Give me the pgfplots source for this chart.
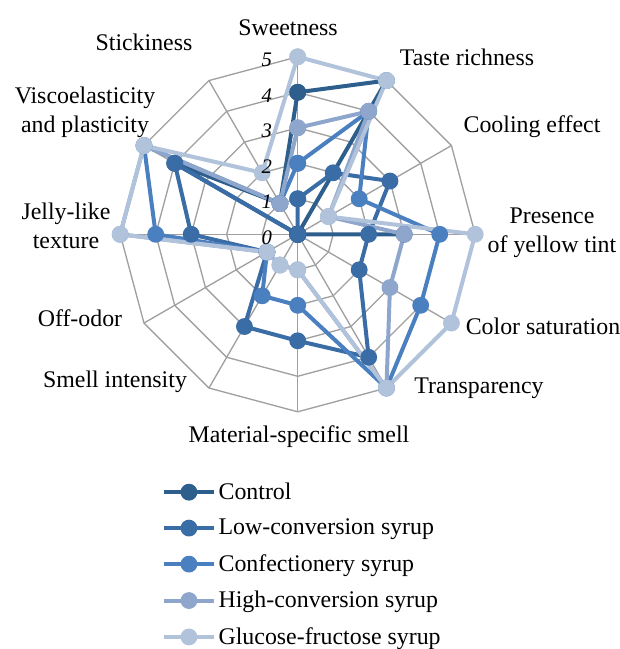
\documentclass[border=0pt]{standalone}
\usepackage{pgfplots}
\pgfplotsset{compat=1.18}
\usepackage{pgfplotstable}
\usepackage{fontspec}
\setmainfont{Liberation Serif}
\definecolor{cctrl}{RGB}{46,94,140}
\definecolor{clow}{RGB}{58,108,166}
\definecolor{cconf}{RGB}{74,127,192}
\definecolor{chigh}{RGB}{142,166,204}
\definecolor{cgluc}{RGB}{177,194,219}
\definecolor{gridc}{RGB}{160,160,160}
% angle, then scores: Control, Low-conversion, Confectionery, High-conversion, Glucose-fructose
\pgfplotstableread{
ang ctrl low conf high gluc
90   4 1 2 3 5
60   5 2 4 4 5
30   0 3 2 1 1
0    3 2 4 3 5
-30  0 2 4 3 5
-60  0 4 5 5 5
-90  0 3 2 1 1
-120 0 3 2 1 1
-150 0 1 1 1 1
180  0 3 4 5 5
150  4 4 5 5 5
120  1 0 1 1 2
90   4 1 2 3 5
}\radar
\newcommand{\lbl}{\fontsize{17.9}{21.8}\selectfont}
\begin{document}
\begin{tikzpicture}
\useasboundingbox (-223.275pt,175.725pt) rectangle (240.975pt,-311.025pt);
\begin{scope}[x=26.625pt,y=26.625pt]
\foreach \r in {1,...,5}
  \draw[gridc, line width=1pt] (90:\r) \foreach \a in {60,30,...,-240} {-- (\a:\r)} -- cycle;
\foreach \a in {0,30,...,330}
  \draw[gridc, line width=1pt] (0,0) -- (\a:5);
\end{scope}
\newcommand{\px}[2]{({(#1-297.7)*0.75pt},{(234.3-#2)*0.75pt})}
\begin{scope}[every node/.style={font=\lbl, align=center, inner sep=0pt}]
\node at \px{288}{28} {Sweetness};
\node at \px{467}{57} {Taste richness};
\node at \px{532}{127} {Cooling effect};
\node at \px{552}{233} {Presence\\of yellow tint};
\node at \px{543}{326} {Color saturation};
\node at \px{479}{388} {Transparency};
\node at \px{299}{437} {Material-specific smell};
\node at \px{115}{382} {Smell intensity};
\node at \px{80}{318} {Off-odor};
\node at \px{66}{226} {Jelly-like\\texture};
\node at \px{85}{112} {Viscoelasticity\\and plasticity};
\node at \px{144}{42} {Stickiness};
\end{scope}
\begin{axis}[
  anchor=origin, at={(0pt,0pt)},
  x=26.625pt, y=26.625pt,
  xmin=-5, xmax=5, ymin=-5, ymax=5,
  hide axis, clip=false,
  every axis plot/.append style={line width=3pt, line join=round, mark=*, mark size=4.8pt},
  legend style={draw=none, fill=none, inner sep=0pt, font=\lbl,
    at={(axis description cs:0.1169,-0.1920)}, anchor=north west,
    cells={anchor=west}, row sep=9.3pt},
  legend image code/.code={\draw[#1, mark repeat=2, mark phase=2] plot coordinates {(0pt,0pt) (18.75pt,0pt) (37.5pt,0pt)};},
]
\addplot[color=cctrl, mark options={fill=cctrl}] table[x expr={\thisrow{ctrl}*cos(\thisrow{ang})}, y expr={\thisrow{ctrl}*sin(\thisrow{ang})}] {\radar};
\addlegendentry{Control}
\addplot[color=clow, mark options={fill=clow}] table[x expr={\thisrow{low}*cos(\thisrow{ang})}, y expr={\thisrow{low}*sin(\thisrow{ang})}] {\radar};
\addlegendentry{Low-conversion syrup}
\addplot[color=cconf, mark options={fill=cconf}] table[x expr={\thisrow{conf}*cos(\thisrow{ang})}, y expr={\thisrow{conf}*sin(\thisrow{ang})}] {\radar};
\addlegendentry{Confectionery syrup}
\addplot[color=chigh, mark options={fill=chigh}] table[x expr={\thisrow{high}*cos(\thisrow{ang})}, y expr={\thisrow{high}*sin(\thisrow{ang})}] {\radar};
\addlegendentry{High-conversion syrup}
\addplot[color=cgluc, mark options={fill=cgluc}] table[x expr={\thisrow{gluc}*cos(\thisrow{ang})}, y expr={\thisrow{gluc}*sin(\thisrow{ang})}] {\radar};
\addlegendentry{Glucose-fructose syrup}
\end{axis}
\begin{scope}[x=26.625pt,y=26.625pt]
\foreach \v in {0,...,5}
  \node[font=\fontsize{15.5}{18}\selectfont\itshape, anchor=center] at (-0.87,\v-0.09) {\v};
\end{scope}
\end{tikzpicture}
\end{document}
